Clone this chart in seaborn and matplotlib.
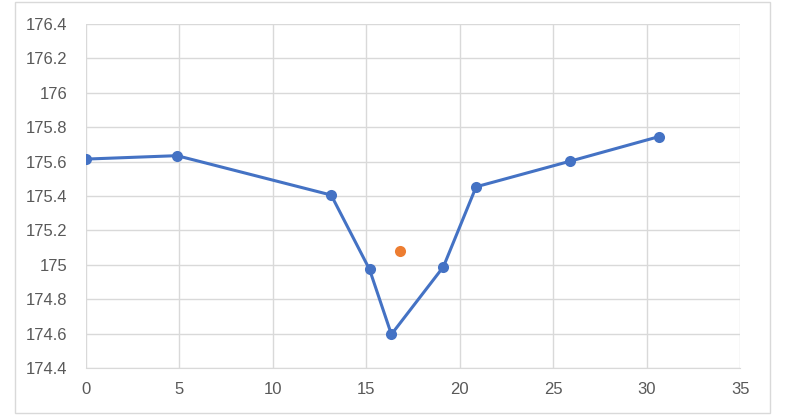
import matplotlib
matplotlib.use('Agg')
import matplotlib.pyplot as plt
import seaborn as sns
import pandas as pd
from matplotlib.patches import Rectangle

# values
xs = [0, 4.89, 13.13, 15.18, 16.35, 19.13, 20.88, 25.91, 30.63]
ys = [175.615, 175.635, 175.406, 174.974, 174.596, 174.989, 175.454, 175.603, 175.745]
extra_x = [16.83]
extra_y = [175.082]

sns.set_style('white')
plt.rcParams['font.family'] = ['Liberation Sans', 'DejaVu Sans']

fig = plt.figure(figsize=(7.85, 4.15), dpi=100)
ax = fig.add_axes([0.109, 0.113, 0.834, 0.829])

df = pd.DataFrame({'x': xs, 'y': ys})
sns.lineplot(x='x', y='y', data=df, sort=False, ax=ax, color='#4472C4',
             linewidth=2.2, marker='o', markersize=8, markeredgewidth=0)
sns.scatterplot(x=extra_x, y=extra_y, ax=ax, color='#ED7D31', s=64, linewidth=0)

ax.set_xlim(0, 35)
ax.set_ylim(174.4, 176.4)
ax.set_xticks(range(0, 36, 5))
ax.set_yticks([174.4 + 0.2 * i for i in range(11)])
ax.set_yticklabels(['174.4', '174.6', '174.8', '175', '175.2', '175.4',
                    '175.6', '175.8', '176', '176.2', '176.4'])
ax.grid(True, color='#D9D9D9', linewidth=1)
ax.set_axisbelow(True)
for s in ['top', 'right', 'left']:
    ax.spines[s].set_visible(False)
ax.spines['bottom'].set_color('#D9D9D9')
ax.tick_params(axis='y', length=0, pad=13, labelsize=12, labelcolor='#595959')
ax.tick_params(axis='x', length=0, pad=10, labelsize=12, labelcolor='#595959')
ax.set_xlabel('')
ax.set_ylabel('')

fig.patches.append(Rectangle((15 / 785, 2 / 415), 755 / 785, 411 / 415,
                             transform=fig.transFigure, fill=False,
                             edgecolor='#D9D9D9', linewidth=1))

fig.savefig('out.png', dpi=100)
